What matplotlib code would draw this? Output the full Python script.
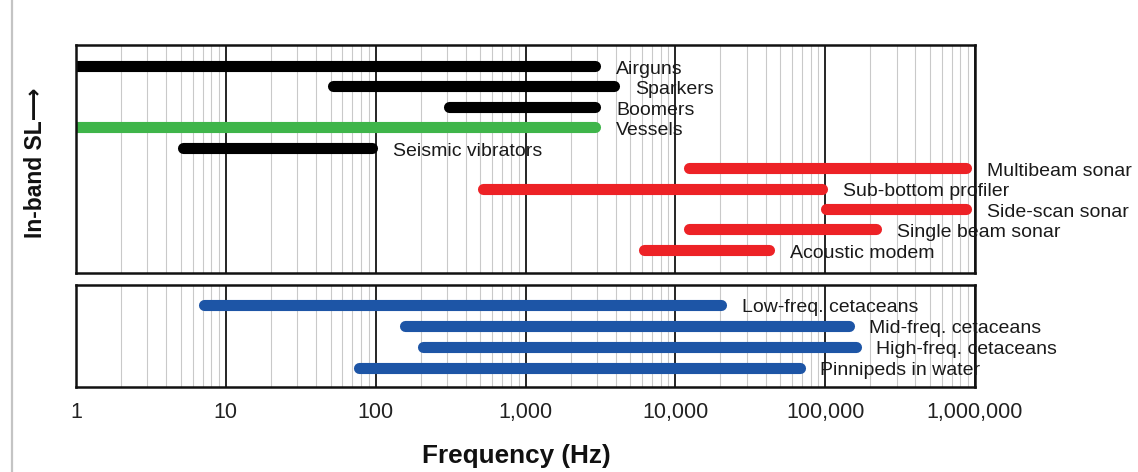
import matplotlib
matplotlib.use("Agg")
import matplotlib.pyplot as plt
from matplotlib.ticker import FixedLocator, NullFormatter, LogLocator
from matplotlib.lines import Line2D

# ---- data ----
top_labels = ["Airguns", "Sparkers", "Boomers", "Vessels", "Seismic vibrators",
              "Multibeam sonar", "Sub-bottom profiler", "Side-scan sonar",
              "Single beam sonar", "Acoustic modem"]
top_low = [1, 52, 311, 1, 5.2, 12400, 517, 101600, 12400, 6200]
top_high = [2930, 3920, 2930, 2930, 95, 870000, 95000, 870000, 219000, 42300]
top_colors = ["#000000", "#000000", "#000000", "#3fb54a", "#000000",
              "#ed2226", "#ed2226", "#ed2226", "#ed2226", "#ed2226"]

bot_labels = ["Low-freq. cetaceans", "Mid-freq. cetaceans",
              "High-freq. cetaceans", "Pinnipeds in water"]
bot_low = [7.2, 156, 206, 78]
bot_high = [20300, 144500, 161000, 68000]
bot_color = "#1d55a6"

xticks = [1, 10, 100, 1000, 10000, 100000, 1000000]
xtick_labels = ["1", "10", "100", "1,000", "10,000", "100,000", "1,000,000"]

plt.rcParams['font.family'] = ['Liberation Sans', 'DejaVu Sans']

W, H = 1138, 472
fig = plt.figure(figsize=(W / 100, H / 100), dpi=100)

def fx(px):
    return px / W

def fy(py):
    return 1 - py / H

ax1 = fig.add_axes([fx(76), fy(273), fx(975) - fx(76), fy(45) - fy(273)])
ax2 = fig.add_axes([fx(76), fy(387), fx(975) - fx(76), fy(285) - fy(387)])

LW = 8.0
LABEL_FS = 14

def style(ax):
    ax.set_xscale("log")
    ax.set_xlim(1, 1e6)
    ax.xaxis.set_major_locator(FixedLocator(xticks))
    ax.xaxis.set_minor_locator(LogLocator(base=10, subs=range(2, 10), numticks=20))
    ax.xaxis.set_minor_formatter(NullFormatter())
    ax.grid(True, which="minor", axis="x", color="#c9c9c9", lw=0.8, zorder=0)
    ax.grid(True, which="major", axis="x", color="#000000", lw=1.2, zorder=0)
    ax.set_yticks([])
    ax.tick_params(axis="x", which="both", length=0)
    for s in ax.spines.values():
        s.set_linewidth(1.8)
        s.set_color("#111111")
        s.set_zorder(5)
    ax.set_axisbelow(True)

style(ax1)
style(ax2)

for i, (lab, lo, hi, c) in enumerate(zip(top_labels, top_low, top_high, top_colors)):
    ax1.plot([lo, hi], [i, i], color=c, lw=LW, solid_capstyle="round", zorder=3, clip_on=True)
    ax1.annotate(lab, xy=(hi, i), xytext=(15, -2.4), textcoords="offset points",
                 va="center", ha="left", fontsize=LABEL_FS, color="#1a1a1a",
                 annotation_clip=False, zorder=6)
ax1.set_ylim(10.13, -1.03)
ax1.xaxis.set_major_formatter(NullFormatter())

for i, (lab, lo, hi) in enumerate(zip(bot_labels, bot_low, bot_high)):
    ax2.plot([lo, hi], [i, i], color=bot_color, lw=LW, solid_capstyle="round", zorder=3)
    ax2.annotate(lab, xy=(hi, i), xytext=(14.5, -1.6), textcoords="offset points",
                 va="center", ha="left", fontsize=LABEL_FS, color="#1a1a1a",
                 annotation_clip=False, zorder=6)
ax2.set_ylim(3.9, -0.95)
ax2.set_xticklabels(xtick_labels, fontsize=15.5, color="#222222")
ax2.tick_params(axis="x", pad=11)

fig.text(fx(516), fy(456), "Frequency (Hz)", ha="center", va="center",
         fontsize=18.8, fontweight="bold", color="#111111")
fig.text(fx(36), fy(163), "In-band SL\u27f6", ha="center", va="center",
         rotation=90, fontsize=16.5, fontweight="bold", color="#111111")

fig.add_artist(Line2D([fx(12), fx(12)], [0, 1], color="#c4c4c4", lw=1.6))

fig.savefig("out.png", dpi=100)
